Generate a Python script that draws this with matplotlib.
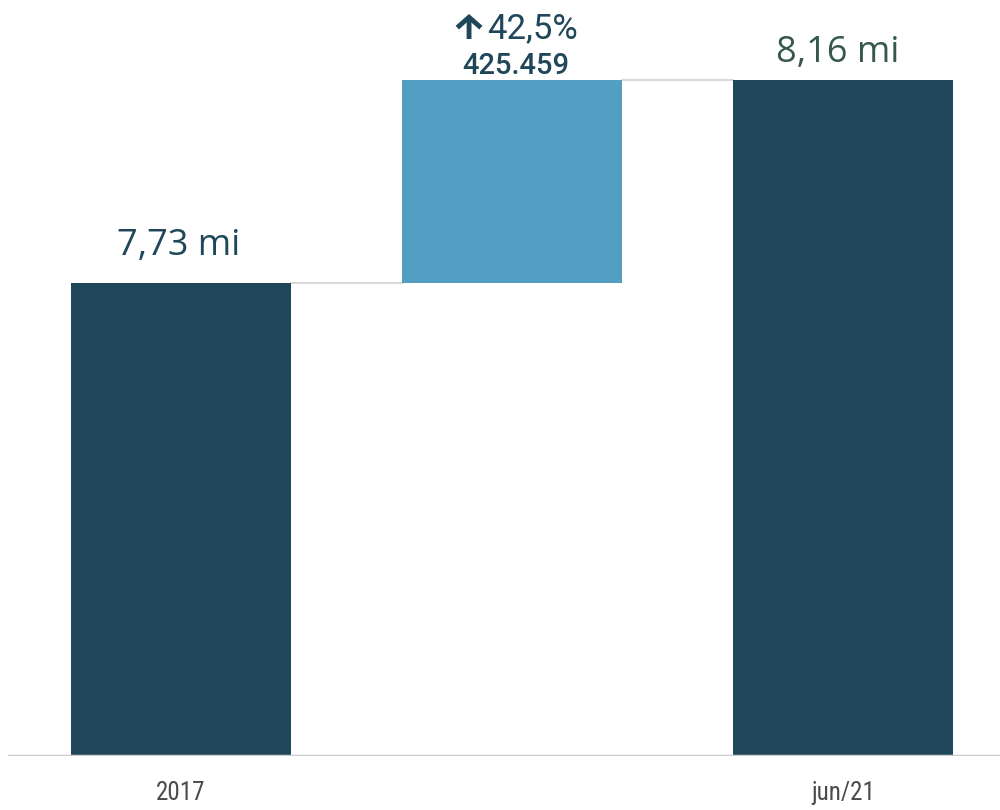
import matplotlib.pyplot as plt
from matplotlib.transforms import offset_copy
import numpy as np

# waterfall data (millions)
categories = ['2017', '', 'jun/21']
start_value = 7.734
delta_value = 0.425459
delta_pct = '42,5%'
start_label = '7,73 mi'
end_label = '8,16 mi'
delta_label = '425.459'

end_value = start_value + delta_value
bottoms = [0, start_value, 0]
heights = [start_value, delta_value, end_value]

dark = '#1F4659'
light = '#539FC3'
ymin = 6.743
ymax = 8.327

fig = plt.figure(figsize=(10, 8.1), dpi=100)
ax = fig.add_axes([0.008, 0.0667, 0.992, 0.9333])

x = np.arange(len(categories))
colors = [dark, light, dark]
w = 0.665
for i in range(len(x)):
    if bottoms[i] == 0:
        b, h = ymin, heights[i] - ymin
    else:
        b, h = bottoms[i], heights[i]
    ax.bar(x[i], h, bottom=b, width=w, color=colors[i], zorder=3)

# connector lines
ax.plot([x[0] + w / 2, x[1] - w / 2], [start_value, start_value], color='#D9D9D9', lw=1.5, zorder=2)
ax.plot([x[1] + w / 2, x[2] - w / 2], [end_value, end_value], color='#D9D9D9', lw=1.5, zorder=2)

ax.set_xlim(-0.523, 2.474)
ax.set_ylim(ymin, ymax)
ax.axhline(ymin, color='#CCCCCC', lw=2.5, zorder=4)

for s in ax.spines.values():
    s.set_visible(False)
ax.set_yticks([])
ax.set_xticks(x)
ax.set_xticklabels(categories, fontsize=18, color='#4A4A4A',
                   family=['Liberation Sans Narrow', 'Roboto Condensed', 'DejaVu Sans'])
ax.tick_params(axis='x', length=0, pad=18)

# value labels
ax.annotate(start_label, (x[0], start_value), xytext=(-2, 20), textcoords='offset points',
            ha='center', va='baseline', fontsize=26, color=dark, family='Open Sans')
ax.annotate(end_label, (x[2], end_value), xytext=(-4, 13), textcoords='offset points',
            ha='center', va='baseline', fontsize=26, color='#355848', family='Open Sans')
ax.annotate(delta_label, (x[1], end_value), xytext=(3, 4), textcoords='offset points',
            ha='center', va='baseline', fontsize=21, color=dark, family='Roboto',
            fontweight='medium')
ax.annotate(delta_pct, (x[1], end_value), xytext=(15, 30), textcoords='offset points',
            ha='center', va='baseline', fontsize=25, color=dark, family='Roboto')

# up arrow next to the percentage
arrow_tip = offset_copy(ax.transData, fig=fig, x=-31, y=47.5, units='points')
arrow_tail = offset_copy(ax.transData, fig=fig, x=-31, y=29.5, units='points')
ax.annotate('', xy=(x[1], end_value), xycoords=arrow_tip,
            xytext=(x[1], end_value), textcoords=arrow_tail,
            arrowprops=dict(arrowstyle='->,head_length=0.75,head_width=0.85',
                            lw=3.5, color=dark, shrinkA=0, shrinkB=0,
                            joinstyle='miter', capstyle='butt'))

fig.savefig('out.png', dpi=100)
